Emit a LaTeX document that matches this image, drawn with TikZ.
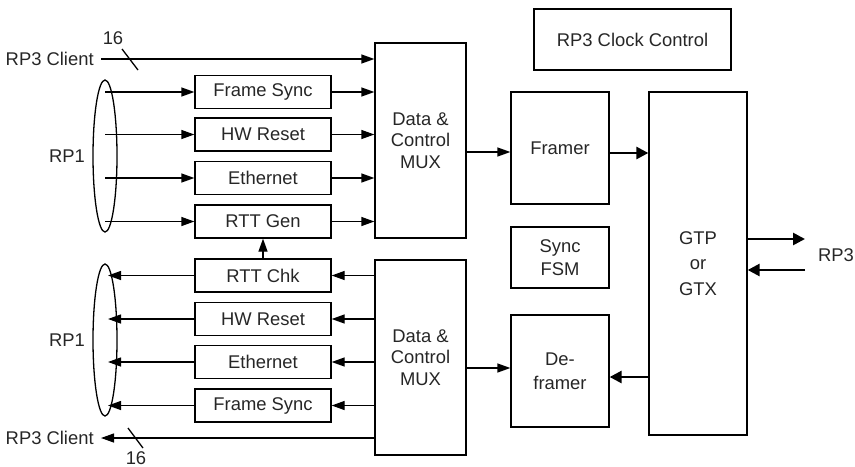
\documentclass[tikz,border=0pt]{standalone}
\usepackage{fontspec}
\setmainfont{Liberation Sans}
\usepackage{tikz}
\usetikzlibrary{arrows.meta,shapes.geometric}

\begin{document}
\begin{tikzpicture}[x=0.5pt,y=-0.5pt,line width=0.65pt,
        every node/.style={font=\fontsize{9.2}{10.8}\selectfont,text=black!85},
        box/.style={draw,inner sep=0pt,align=center},
        port/.style={box,minimum width=68pt,minimum height=16.5pt},
        mux/.style={box,minimum width=45.5pt,minimum height=97.5pt},
        blk/.style={box,minimum width=49pt},
        arr/.style={-{Triangle[length=6.5pt,width=4.5pt]}},
        thk/.style={line width=1.3pt,-{Triangle[length=6pt,width=6pt]}}]
        \useasboundingbox (0,0) rectangle (855,466);
        % blocks
        \node[box,minimum width=98.5pt,minimum height=30.5pt] (clk) at (632.5,39.5) {RP3 Clock Control};
        \node[mux] (mux1) at (420.5,140.5) {Data \&\\Control\\MUX};
        \node[mux] (mux2) at (420.5,357.5) {Data \&\\Control\\MUX};
        \node[blk,minimum height=56pt] (framer) at (560,148) {Framer};
        \node[blk,minimum height=30.5pt] (fsm) at (560,257.5) {Sync\\[1pt]FSM};
        \node[blk,minimum height=56pt] (deframer) at (560,371) {De-\\[1pt]framer};
        \node[blk,minimum height=171.5pt] (gtp) at (698,263.5) {GTP\\[2pt]or\\[2pt]GTX};
        % receive side
        \node[port] (rxfs) at (263,92) {Frame Sync};
        \node[port] (rxhw) at (263,134.5) {HW Reset};
        \node[port] (rxeth) at (263,178) {Ethernet};
        \node[port] (gen) at (263,221.5) {RTT Gen};
        % transmit side
        \node[port] (chk) at (263,275.5) {RTT Chk};
        \node[port] (txhw) at (263,319) {HW Reset};
        \node[port] (txeth) at (263,362) {Ethernet};
        \node[port] (txfs) at (263,405.5) {Frame Sync};
        % RP1 bundles
        \node[draw,ellipse,inner sep=0pt,minimum width=12pt,minimum height=76pt] (rpa) at (105,156) {};
        \node[draw,ellipse,inner sep=0pt,minimum width=12pt,minimum height=76pt] (rpb) at (105,340) {};
        \node (rp1a) at (67,156) {RP1};
        \node (rp1b) at (67,340) {RP1};
        \foreach \p in {rxfs,rxhw,rxeth,gen} {
            \draw[arr] (rpa.center |- \p.west) -- (\p.west);
            \draw[arr] (\p.east) -- (\p.east -| mux1.west);
        }
        \foreach \p in {chk,txhw,txeth,txfs} {
            \draw[arr] (\p.west) -- ([xshift=1.5pt]rpb.center |- \p.west);
            \draw[arr] (mux2.west |- \p.east) -- (\p.east);
        }
        \draw[arr] (chk.north) -- (gen.south);
        % RP3 client buses
        \node[anchor=east] (cla) at (101,59) {RP3 Client};
        \node[anchor=east] (clb) at (101,438) {RP3 Client};
        \draw[arr] (cla.east) -- (cla.east -| mux1.west);
        \draw[arr] (clb.east -| mux2.west) -- (clb.east);
        \draw (122,49) -- (138,70);
        \node (wa) at (113,38) {16};
        \draw (128,428) -- (143,448);
        \node (wb) at (136,458) {16};
        % framer / deframer paths
        \draw[arr] (mux1.east |- framer.west) ++(0,4) -- ([yshift=-2pt]framer.west);
        \draw[thk] ([yshift=-2.5pt]framer.east) -- ([yshift=-2.5pt]framer.east -| gtp.west);
        \draw[arr] ([yshift=1.5pt]deframer.west -| mux2.east) -- ([yshift=1.5pt]deframer.west);
        \draw[thk] ([yshift=-3pt]deframer.east -| gtp.west) -- ([yshift=-3pt]deframer.east);
        % RP3 line side
        \coordinate (outR) at (805,239);
        \coordinate (inR) at (805,270);
        \draw[thk] (gtp.east |- outR) -- (outR);
        \draw[thk] (inR) -- (gtp.east |- inR);
        \node (rp3) at (836,255) {RP3};
\end{tikzpicture}
\end{document}
